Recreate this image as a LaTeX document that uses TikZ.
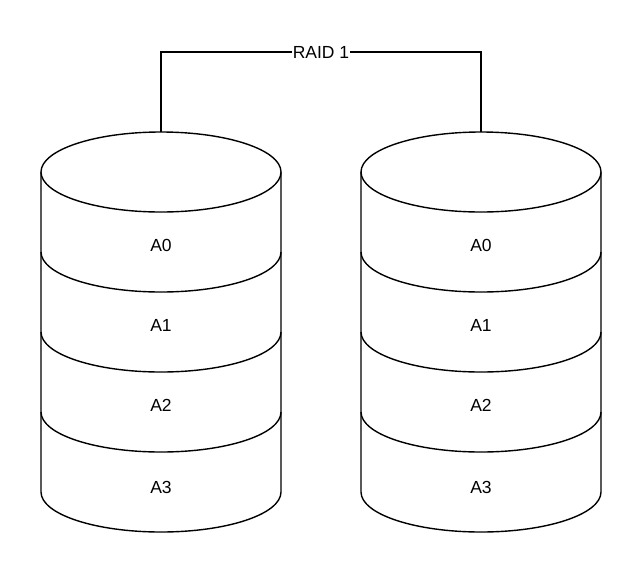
\documentclass[tikz,border=0pt]{standalone}
\usepackage{fontspec}
\setmainfont{Liberation Sans}
\begin{document}
\begin{tikzpicture}[x=1pt,y=-1pt,line width=1.4pt,
  lbl/.style={font=\fontsize{17.5}{20}\selectfont}]
\useasboundingbox (0,0) rectangle (642,574);
\foreach \cx/\n in {161/l,481/r}{
  \draw[fill=white] (\cx-120,172) -- (\cx-120,492) arc[start angle=180,end angle=0,x radius=120,y radius=40] -- (\cx+120,172);
  \draw[fill=white] (\cx,172) ellipse[x radius=120,y radius=40];
  \foreach \y in {252,332,412}{
    \draw (\cx-120,\y) arc[start angle=180,end angle=0,x radius=120,y radius=40];
  }
  \coordinate (top\n) at (\cx,132);
  \node[lbl] (a0\n) at (\cx,245) {A0};
  \node[lbl] (a1\n) at (\cx,325) {A1};
  \node[lbl] (a2\n) at (\cx,405) {A2};
  \node[lbl] (a3\n) at (\cx,487) {A3};
}
\draw (topl) |- (321,52) -| (topr);
\node[lbl,fill=white,inner sep=1pt] (raid) at (321,52) {RAID 1};
\end{tikzpicture}
\end{document}
